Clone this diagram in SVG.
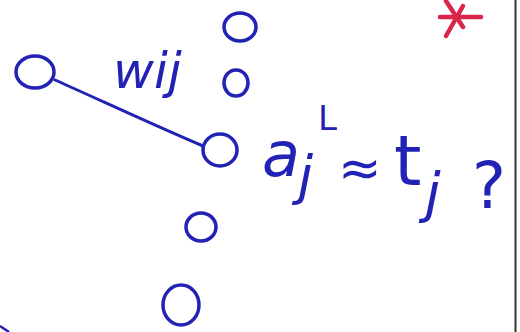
<svg xmlns="http://www.w3.org/2000/svg" width="520" height="332" viewBox="0 0 520 332">
<style>
.n{fill:none;stroke:#2222b4;stroke-width:3.5}
.e{fill:none;stroke:#2222b4;stroke-width:3;stroke-linecap:round}
.t{fill:#2222b4;font-family:"DejaVu Sans",sans-serif;font-style:italic}
.u{font-style:normal}
</style>
<rect width="520" height="332" fill="#ffffff"/>
<line x1="515.5" y1="0" x2="515.5" y2="332" stroke="#333" stroke-width="2"/>
<path d="M0 326 L9 332" fill="none" stroke="#2222b4" stroke-width="2.5"/>
<g id="connectors">
<path class="e" d="M55 80 C100 100 160 128 203 146"/>
</g>
<g id="node-i"><ellipse class="n" cx="35" cy="72" rx="19" ry="16"/></g>
<g id="node-top1"><ellipse class="n" cx="240" cy="27" rx="16" ry="14"/></g>
<g id="node-top2"><ellipse class="n" cx="236" cy="83" rx="12" ry="13"/></g>
<g id="node-j"><ellipse class="n" cx="220" cy="150" rx="17" ry="16"/></g>
<g id="node-b1"><ellipse class="n" cx="201" cy="227" rx="15" ry="14"/></g>
<g id="node-b2"><ellipse class="n" cx="181" cy="305" rx="18" ry="20"/></g>
<g id="label-w"><text class="t" x="113" y="88" font-size="50">wij</text></g>
<g id="label-eq">
<text class="t" x="262" y="176" font-size="62">a<tspan x="298" y="194" font-size="54">j</tspan><tspan class="u" x="318" y="130" font-size="34">L</tspan><tspan class="u" x="338" y="186" font-size="52">≈</tspan><tspan class="u" x="394" y="185" font-size="70">t</tspan><tspan x="425" y="212" font-size="56">j</tspan><tspan class="u" x="472" y="208" font-size="64">?</tspan></text>
</g>
<g id="asterisk" stroke="#d9264a" stroke-width="4.5" stroke-linecap="round">
<line x1="440" y1="17" x2="481" y2="17"/>
<line x1="446" y1="1" x2="463" y2="27"/>
<line x1="446" y1="36" x2="463" y2="6"/>
</g>
</svg>
